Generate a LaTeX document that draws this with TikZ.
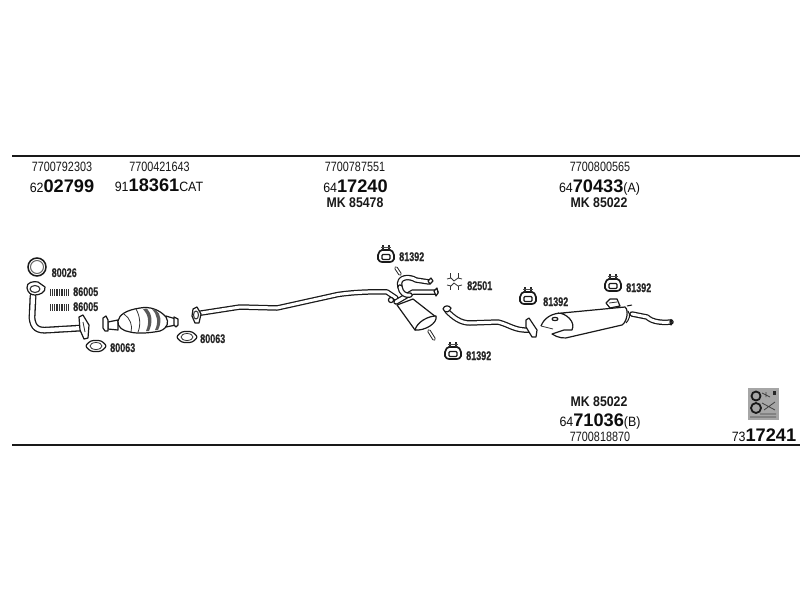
\documentclass[tikz,border=0pt]{standalone}
\usepackage{fontspec}
\setmainfont{Liberation Sans}
\newfontfamily\smallcond[FakeStretch=0.8]{Liberation Sans}
\newfontfamily\midcond[FakeStretch=0.92]{Liberation Sans}
\newfontfamily\labcond[FakeStretch=0.72,FakeBold=0.6]{Liberation Sans Bold}
\newfontfamily\mkcond[FakeStretch=0.88]{Liberation Sans Bold}
\newcommand{\partno}[3]{{\fontsize{13.5}{13.5}\selectfont\midcond #1}{\fontsize{18.2}{18.2}\selectfont\bfseries #2}{\fontsize{13.5}{13.5}\selectfont\midcond #3}}
\tikzset{
  x=1pt,y=-1pt,
  rulebar/.style={line width=2pt,draw=black!90},
  tube/.style={double=white,double distance=3pt,line width=1.25pt,draw=black!90,line cap=round,line join=round},
  widetube/.style={double=white,double distance=4.2pt,line width=1.3pt,draw=black!90,line cap=round,line join=round},
  thintube/.style={double=white,double distance=1.6pt,line width=1pt,draw=black!85,line cap=round},
  partline/.style={draw=black!90,line width=1.2pt,fill=white,line join=round},
  detail/.style={draw=black!80,line width=0.8pt,line join=round},
  code/.style={anchor=base,inner sep=0pt,font=\fontsize{13.5}{13.5}\selectfont\smallcond,text=black!90},
  num/.style={anchor=base,inner sep=0pt,text=black!95},
  mk/.style={anchor=base,inner sep=0pt,font=\fontsize{14}{14}\selectfont\mkcond,text=black!90},
  lab/.style={anchor=base west,inner sep=0pt,font=\fontsize{12.5}{12.5}\selectfont\labcond,text=black!85},
  clamp/.pic={
    \draw[draw=black!90,line width=1.7pt,fill=white,line join=round] (-8,-1) .. controls (-7,-4) and (-6,-6) .. (-4,-6) -- (4,-6) .. controls (6,-6) and (7,-4) .. (8,-1) -- (8,3) .. controls (7,5) and (6,6) .. (4,6) -- (-4,6) .. controls (-6,6) and (-7,5) .. (-8,3) -- cycle;
    \draw[draw=black!90,line width=1.1pt,rounded corners=1pt] (-4,-1.5) rectangle (4,3.5);
    \draw[draw=black!85,line width=1.3pt] (-3,-11) -- (-3,-6) (3,-11) -- (3,-6);
    \draw[draw=black!70,line width=0.8pt] (-5,-8.5) -- (5,-8.5);
  },
  gasket/.pic={
    \draw[partline,rounded corners=2.5pt] (-11,0) -- (-5,-5.5) -- (5,-5.5) -- (11,0) -- (5,5.5) -- (-5,5.5) -- cycle;
    \draw[detail] (0,0) ellipse (6 and 3.5);
  },
  spring/.pic={
    \fill[black!80] (0,-3.5) rectangle (19,3.5);
    \foreach \k in {1,3.4,...,18}{\draw[white,line width=0.7pt] (\k,-2.6) -- (\k,3.5);}
  }
}
\begin{document}
\begin{tikzpicture}
\useasboundingbox (0,0) rectangle (800,600);
\fill[white] (0,0) rectangle (800,600);

% rules
\coordinate (tl) at (12,155.5); \coordinate (tr) at (800,155.5);
\coordinate (bl) at (12,444.5); \coordinate (br) at (800,444.5);
\draw[rulebar] (tl) -- (tr);
\draw[rulebar] (bl) -- (br);

% header text
\node[code] (c1) at (62,171) {7700792303};
\node[num] (n1) at (62,192.5) {\partno{62}{02799}{}};
\node[code] (c2) at (159.5,171) {7700421643};
\node[num] (n2) at (159,191.5) {\partno{91}{18361}{CAT}};
\node[code] (c3) at (355,171) {7700787551};
\node[num] (n3) at (355.5,192.5) {\partno{64}{17240}{}};
\node[mk] (m3) at (355,207) {MK 85478};
\node[code] (c4) at (600,171) {7700800565};
\node[num] (n4) at (599.5,192.5) {\partno{64}{70433}{(A)}};
\node[mk] (m4) at (599,207) {MK 85022};
% footer text
\node[mk] (m5) at (599,406) {MK 85022};
\node[num] (n5) at (600,426) {\partno{64}{71036}{(B)}};
\node[code] (c5) at (600,441) {7700818870};
\node[num] (n6) at (764,441) {\partno{73}{17241}{}};

% ring + front pipe
\draw[draw=black!90,line width=1.5pt] (37,267) circle (9);
\draw[draw=black!60,line width=1pt] (37,267) circle (6.5);
\node[lab] (l1) at (51.5,277) {80026};

\draw[widetube] (33,296) -- (32,318) .. controls (33,328) and (38,331) .. (48,330) -- (82,328);
\draw[partline] (27,288) .. controls (26,282) and (34,281) .. (38,282) -- (45,287) .. controls (46,292) and (40,295) .. (35,295) .. controls (31,295) and (28,293) .. (27,288) -- cycle;
\draw[detail,line width=1.1pt] (35,289) ellipse (5 and 3.5);
\draw[partline] (79,317) -- (83,315) -- (89,325) -- (88,338) -- (84,339) -- (80,330) -- cycle;
\draw[detail] (83,322) -- (85,332);

\pic at (50,292) {spring};
\pic at (50,307) {spring};
\node[lab] (l2) at (73,296) {86005};
\node[lab] (l3) at (73,311) {86005};

\pic at (96,346) {gasket};
\node[lab] (l4) at (110,352) {80063};

% catalyst
\draw[partline] (108,322) -- (118,320) -- (118,330) -- (108,329) -- cycle;
\draw[partline] (103,318) -- (106,316) -- (108,320) -- (108,331) -- (105,331) -- (103,328) -- cycle;
\draw[partline] (166,316) -- (176,319) -- (176,325) -- (166,327) -- cycle;
\draw[partline] (174,317) -- (178,319) -- (178,325) -- (176,327) -- (174,325) -- cycle;
\draw[partline] (118,321) .. controls (119,315) and (126,310) .. (140,308) .. controls (150,306) and (160,310) .. (166,317) .. controls (169,322) and (168,328) .. (160,331) .. controls (150,333) and (138,334) .. (130,332) .. controls (123,331) and (117,327) .. (118,321) -- cycle;
\fill[black!65] (143,309) .. controls (148,314) and (150,322) .. (146,331) -- (149,331) .. controls (153,322) and (152,314) .. (147,308.5) -- cycle;
\fill[black!65] (152,309) .. controls (157,314) and (159,322) .. (155,330) -- (158,330) .. controls (162,322) and (161,314) .. (156,310) -- cycle;
\draw[detail] (124,314) .. controls (130,318) and (133,326) .. (131,332);
\draw[detail] (136,309) .. controls (140,316) and (141,325) .. (138,332);

\pic at (187,337) {gasket};
\node[lab] (l5) at (200,343) {80063};

% middle pipe
\draw[tube] (198,313.5) -- (240,307) -- (277,308) -- (338,294.5) .. controls (355,292) and (375,291.5) .. (387,292) -- (396,298);
\draw[partline] (193,309) -- (197,307) -- (201,314) -- (199,323) -- (195,323) -- (192,316) -- cycle;
\draw[detail,line width=1.1pt] (196,315) ellipse (2.5 and 4);

% central silencer
\draw[partline] (397,305) -- (413,299) -- (436,317) -- (415,330) -- cycle;
\draw[partline] (415,330) .. controls (417,322) and (428,316) .. (436,316) .. controls (438,323) and (425,331) .. (415,330) -- cycle;
\draw[thintube] (429,331) -- (434,339);
\draw[tube] (396,302) -- (413,292) -- (436,292);
\draw[tube] (400,287) .. controls (397,276) and (410,276) .. (416,280) -- (429,282);
\draw[tube] (400,287) .. controls (401,293) and (405,296) .. (410,295);
\draw[thintube] (396,268) -- (400,274);
\draw[partline] (391,300) circle (2.6);
\draw[partline] (431,278) -- (433,281) -- (430,284) -- (428,281) -- cycle;
\draw[partline] (434,291) -- (437,288) -- (438,293) -- (436,296) -- cycle;

\pic at (386,256) {clamp};
\node[lab] (l6) at (399,261) {81392};

% bracket 82501
\draw[detail] (450,273) -- (450,278) (458,273) -- (458,278) (450,286) -- (450,290) (458,286) -- (458,290);
\draw[detail] (447,279) -- (451,278) -- (454,281) -- (458,278) -- (462,279);
\draw[detail] (447,285) -- (451,286) -- (454,283) -- (458,286) -- (462,285);
\node[lab] (l7) at (467,290) {82501};

\pic at (453,353) {clamp};
\node[lab] (l8) at (466,360) {81392};

% rear pipe
\draw[tube] (447,311) .. controls (453,317) and (460,323) .. (470,323) -- (498,322) .. controls (510,325) and (515,331) .. (530,330);
\draw[partline] (443,309) .. controls (444,305) and (449,305) .. (451,308) .. controls (450,312) and (445,314) .. (443,309) -- cycle;
\draw[partline] (526,320) -- (529,318) -- (537,330) -- (536,337) -- (532,337) -- (526,327) -- cycle;

\pic at (528,298) {clamp};
\node[lab] (l9) at (543,306) {81392};
\pic at (613,285) {clamp};
\node[lab] (l10) at (626,292) {81392};

% rear silencer
\draw[tube] (632,314) -- (647,317) .. controls (652,322) and (662,323) .. (671,322);
\draw[partline] (541,326) .. controls (544,318) and (552,313) .. (562,313) -- (625,307) .. controls (629,310) and (627,322) .. (622,325) -- (570,337) .. controls (565,339) and (558,338) .. (552,334) -- (564,330) -- (572,330) .. controls (576,322) and (566,313) .. (558,313);
\draw[detail] (541,326) -- (553,329);
\draw[partline] (555,319) ellipse (3 and 1.6);
\draw[partline] (606,303) -- (610,299) -- (617,299) -- (620,306) -- (610,308) -- cycle;
\draw[detail] (609,303) -- (617,302);
\draw[draw=black!90,line width=1pt] (627,306) -- (632,305) (628,311) .. controls (631,315) and (629,320) .. (626,323);
\draw[partline] (671,319.5) -- (672,323) -- (671,325) -- (670,322) -- cycle;

% manual icon
\fill[black!35] (748,388) rectangle (779,420);
\draw[draw=black!90,line width=1.8pt] (756,396) circle (4.5);
\draw[draw=black!90,line width=1.8pt] (756,408) circle (5);
\draw[draw=black!75,line width=0.8pt] (762,393) -- (770,397) (766,392) -- (766,397) (762,403) -- (775,410) (764,410) -- (775,402) (750,417) -- (776,417) (760,414) -- (776,414);
\fill[black!85] (773,391) rectangle (776,395);
\end{tikzpicture}
\end{document}
